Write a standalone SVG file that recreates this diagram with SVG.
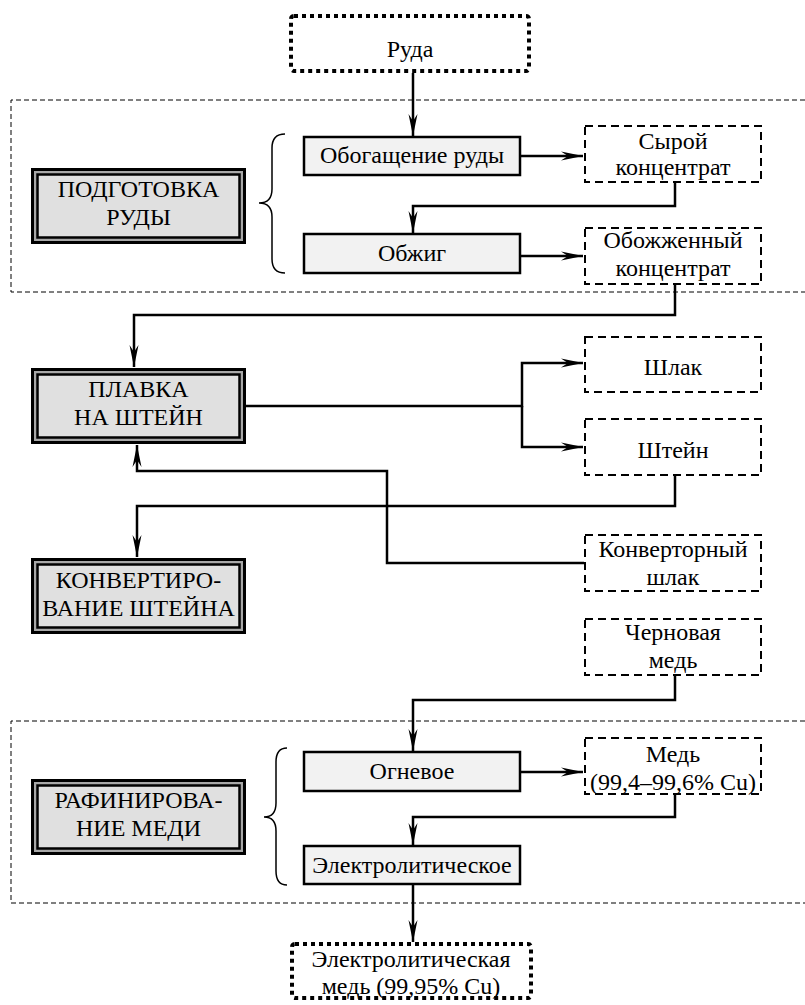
<svg xmlns="http://www.w3.org/2000/svg" width="805" height="1005" viewBox="0 0 805 1005">
<style>
text{font-family:"Liberation Serif","Times New Roman",serif;font-size:24px;fill:#000;text-anchor:middle}
.region{fill:none;stroke:#000;stroke-width:1;stroke-dasharray:5 3}
.dot{fill:#fff;stroke:#000;stroke-width:4;stroke-dasharray:4 4}
.dash{fill:#fff;stroke:#000;stroke-width:2;stroke-dasharray:8 5}
.proc{fill:#f2f2f2;stroke:#000;stroke-width:2.5}
.outer{fill:#a8a8a8;stroke:#000;stroke-width:3}
.inner{fill:#e0e0e0;stroke:#000;stroke-width:2.5}
.brace{fill:none;stroke:#000;stroke-width:1.5}
.conn path{fill:none;stroke:#000;stroke-width:2.5}
</style>
<defs>
<marker id="ah" viewBox="-23 -5 24 10" refX="0" refY="0" markerWidth="24" markerHeight="10" markerUnits="userSpaceOnUse" orient="auto">
<path d="M-22,-4.5 L0,0 L-22,4.5 L-15,0 Z" fill="#000"/>
</marker>
</defs>

<g id="regions">
<path class="region" d="M805,100 H11 V292 H805"/>
<path class="region" d="M805,721 H11 V903 H805"/>
</g>

<g id="braces">
<path class="brace" d="M285,134 Q272,134 272,148 L272,189 Q272,203 259,203 Q272,203 272,217 L272,259 Q272,273 285,273"/>
<path class="brace" d="M287,748 Q276,748 276,762 L276,803 Q276,817 264,817 Q276,817 276,831 L276,871 Q276,885 287,885"/>
</g>

<g class="conn" id="connectors">
<path d="M413,73 V136" marker-end="url(#ah)"/>
<path d="M520,156 H583" marker-end="url(#ah)"/>
<path d="M675,182 V206 H413 V233" marker-end="url(#ah)"/>
<path d="M520,256 H583" marker-end="url(#ah)"/>
<path d="M675,284 V315 H134 V367" marker-end="url(#ah)"/>
<path d="M246,406 H522 V363 H583" marker-end="url(#ah)"/>
<path d="M522,406 V447 H583" marker-end="url(#ah)"/>
<path d="M675,476 V506 H137 V557" marker-end="url(#ah)"/>
<path d="M584,563 H387 V471 H137 V445" marker-end="url(#ah)"/>
<path d="M675,676 V700 H413 V751" marker-end="url(#ah)"/>
<path d="M520,772 H583" marker-end="url(#ah)"/>
<path d="M675,795 V817 H413 V845" marker-end="url(#ah)"/>
<path d="M413,884 V942" marker-end="url(#ah)"/>
</g>

<g id="ruda">
<rect class="dot" x="291" y="16" width="238" height="55" rx="3"/>
<text x="410" y="57">Руда</text>
</g>

<g id="stage-podgotovka">
<rect class="outer" x="32.5" y="169.5" width="212" height="73"/>
<rect class="inner" x="37.5" y="174.5" width="202" height="63"/>
<text x="138.5" y="197">ПОДГОТОВКА</text>
<text x="138.5" y="225">РУДЫ</text>
</g>

<g id="obogashchenie">
<rect class="proc" x="304" y="137" width="216" height="38"/>
<text x="412" y="163">Обогащение руды</text>
</g>

<g id="obzhig">
<rect class="proc" x="304" y="234" width="216" height="39"/>
<text x="412" y="261">Обжиг</text>
</g>

<g id="syroy">
<rect class="dash" x="585" y="126" width="176" height="56"/>
<text x="673" y="149">Сырой</text>
<text x="673" y="175">концентрат</text>
</g>

<g id="obozhzhenny">
<rect class="dash" x="585" y="228" width="176" height="56"/>
<text x="673" y="248">Обожженный</text>
<text x="673" y="276">концентрат</text>
</g>

<g id="stage-plavka">
<rect class="outer" x="32.5" y="369.5" width="212" height="73"/>
<rect class="inner" x="37.5" y="374.5" width="202" height="63"/>
<text x="138.5" y="397">ПЛАВКА</text>
<text x="138.5" y="425">НА ШТЕЙН</text>
</g>

<g id="shlak">
<rect class="dash" x="585" y="337" width="176" height="55"/>
<text x="673" y="375">Шлак</text>
</g>

<g id="shteyn">
<rect class="dash" x="585" y="419" width="176" height="56"/>
<text x="673" y="458">Штейн</text>
</g>

<g id="stage-konvert">
<rect class="outer" x="32.5" y="559.5" width="212" height="73"/>
<rect class="inner" x="37.5" y="564.5" width="202" height="63"/>
<text x="138.5" y="588">КОНВЕРТИРО-</text>
<text x="138.5" y="616">ВАНИЕ ШТЕЙНА</text>
</g>

<g id="konv-shlak">
<rect class="dash" x="585" y="535" width="176" height="56"/>
<text x="673" y="557">Конверторный</text>
<text x="673" y="585">шлак</text>
</g>

<g id="chernovaya">
<rect class="dash" x="585" y="619" width="176" height="56"/>
<text x="673" y="640">Черновая</text>
<text x="673" y="668">медь</text>
</g>

<g id="stage-rafin">
<rect class="outer" x="32.5" y="780.5" width="212" height="73"/>
<rect class="inner" x="37.5" y="785.5" width="202" height="63"/>
<text x="138.5" y="808">РАФИНИРОВА-</text>
<text x="138.5" y="836">НИЕ МЕДИ</text>
</g>

<g id="ognevoe">
<rect class="proc" x="304" y="752" width="216" height="39"/>
<text x="412" y="779">Огневое</text>
</g>

<g id="med">
<rect class="dash" x="585" y="738" width="176" height="56"/>
<text x="673" y="762">Медь</text>
<text x="673" y="790">(99,4–99,6% Cu)</text>
</g>

<g id="elektrolit">
<rect class="proc" x="304" y="846" width="216" height="38"/>
<text x="412" y="873">Электролитическое</text>
</g>

<g id="final">
<rect class="dot" x="292" y="944" width="239" height="54" rx="3"/>
<text x="411" y="967">Электролитическая</text>
<text x="411" y="994">медь (99,95% Cu)</text>
</g>
</svg>
